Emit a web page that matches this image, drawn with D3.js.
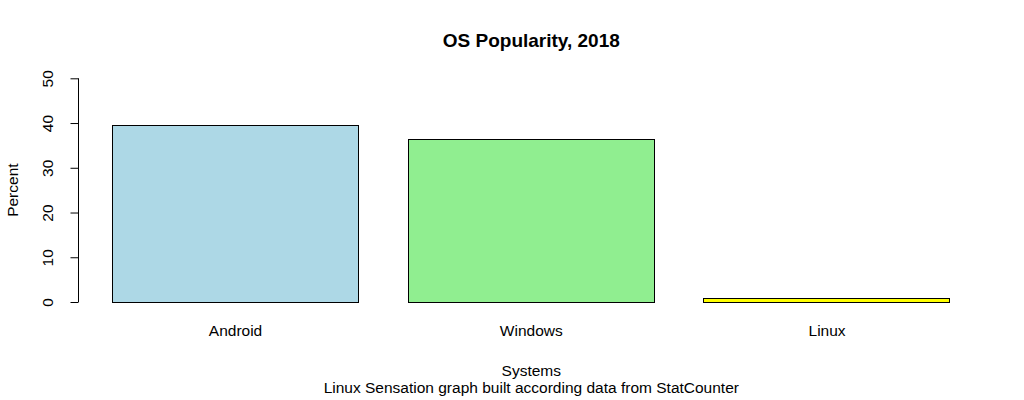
<!DOCTYPE html>
<html>
<head>
<meta charset="utf-8">
<script src="https://cdn.jsdelivr.net/npm/d3@7"></script>
<style>
  body { margin: 0; background: #fff; }
  text { font-family: "Liberation Sans", Arial, sans-serif; fill: #000; }
</style>
</head>
<body>
<div id="chart"></div>
<script>
const systems = ["Android", "Windows", "Linux"];
const percents = [39.6, 36.4, 0.9];
const barColors = ["#add8e6", "#90ee90", "#ffff00"];
const yTicks = [0, 10, 20, 30, 40, 50];

const width = 1024, height = 400;
const fs = "15.5px";

const svg = d3.select("#chart")
  .append("svg")
  .attr("width", width)
  .attr("height", height);

const x = d3.scaleBand()
  .domain(systems)
  .range([112.3, 950.3])
  .paddingInner(1 / 6)
  .paddingOuter(0);

const y = d3.scaleLinear().domain([0, 50]).range([302, 78.3]);

// bars
svg.append("g")
  .selectAll("rect")
  .data(systems)
  .join("rect")
  .attr("x", d => Math.floor(x(d)) + 0.5)
  .attr("y", (d, i) => Math.round(y(percents[i])) + 0.5)
  .attr("width", Math.round(x.bandwidth()))
  .attr("height", (d, i) => Math.round(y(0)) - Math.round(y(percents[i])))
  .attr("fill", (d, i) => barColors[i])
  .attr("stroke", "#000")
  .attr("stroke-width", 1);

// y axis
const yAxis = svg.append("g")
  .attr("transform", "translate(78.5,0)")
  .call(d3.axisLeft(y).tickValues(yTicks).tickSize(8).tickPadding(0));
yAxis.select(".domain").attr("d", `M0,${y(0)}V${y(50)}`).attr("stroke", "#000");
yAxis.selectAll(".tick line").attr("stroke", "#000");
yAxis.selectAll(".tick text")
  .attr("x", null).attr("dy", null)
  .attr("transform", "translate(-25.5,0) rotate(-90)")
  .attr("text-anchor", "middle")
  .style("font-size", fs)
  .style("font-family", "'Liberation Sans', Arial, sans-serif")
  .attr("fill", "#000");

// category labels
svg.append("g")
  .selectAll("text")
  .data(systems)
  .join("text")
  .attr("x", d => x(d) + x.bandwidth() / 2)
  .attr("y", 336)
  .attr("text-anchor", "middle")
  .style("font-size", fs)
  .text(d => d);

// title
svg.append("text")
  .attr("x", 531.3)
  .attr("y", 47)
  .attr("text-anchor", "middle")
  .style("font-size", "19px")
  .style("font-weight", "bold")
  .text("OS Popularity, 2018");

// axis titles
svg.append("text")
  .attr("x", 531.3)
  .attr("y", 375.5)
  .attr("text-anchor", "middle")
  .style("font-size", fs)
  .text("Systems");

svg.append("text")
  .attr("x", 531.3)
  .attr("y", 392.5)
  .attr("text-anchor", "middle")
  .style("font-size", fs)
  .text("Linux Sensation graph built according data from StatCounter");

svg.append("text")
  .attr("transform", `translate(18,${y(25)}) rotate(-90)`)
  .attr("text-anchor", "middle")
  .style("font-size", fs)
  .text("Percent");
</script>
</body>
</html>
